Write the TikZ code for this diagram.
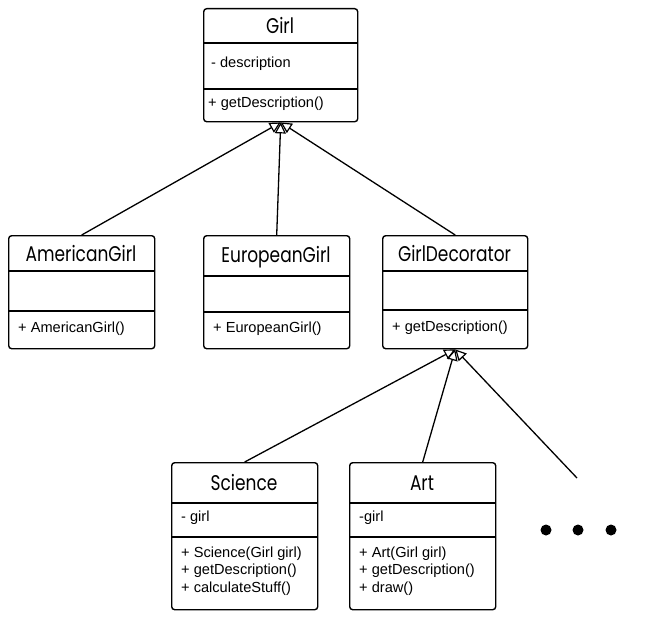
\documentclass[tikz,border=0pt]{standalone}
\usepackage{fontspec}
\setmainfont{Liberation Sans}
\newfontfamily\titlefont{Poppins}
\usetikzlibrary{arrows.meta}
\newcommand{\ctext}[1]{\scalebox{1}[1.25]{#1}}
\tikzset{
  classbox/.style={draw, rounded corners=3pt, line width=1.4pt, inner sep=0pt, anchor=north west},
  divider/.style={line width=1.4pt},
  ctitle/.style={font=\titlefont\fontsize{17}{20}\selectfont, inner sep=0pt},
  member/.style={font=\fontsize{14.6}{17.5}\selectfont, anchor=west, inner sep=0pt, align=left},
  inherit/.style={line width=1.3pt, -{Triangle[open, length=11pt, width=11pt, line width=1.2pt]}},
  dot/.style={fill=black}
}
\begin{document}
\begin{tikzpicture}[x=1pt, y=-1pt]
\useasboundingbox (0,0) rectangle (650,626);
% Girl
\node[classbox, minimum width=154pt, minimum height=113pt] (girl) at (203,8) {};
\draw[divider] (203,43) -- (357,43);
\draw[divider] (203,89) -- (357,89);
\node[ctitle] (girlT) at (280,25) {\ctext{Girl}};
\node[member] (girlA) at (211,64) {- description};
\node[member] (girlM) at (208,104) {+ getDescription()};
% AmericanGirl
\node[classbox, minimum width=146pt, minimum height=113pt] (amer) at (8,235) {};
\draw[divider] (8,271) -- (154,271);
\draw[divider] (8,311) -- (154,311);
\node[ctitle] (amerT) at (81,254) {\ctext{AmericanGirl}};
\node[member] (amerM) at (18,329) {+ AmericanGirl()};
% EuropeanGirl
\node[classbox, minimum width=146pt, minimum height=113pt] (euro) at (203,235) {};
\draw[divider] (203,276) -- (349,276);
\draw[divider] (203,312) -- (349,312);
\node[ctitle] (euroT) at (276,257) {\ctext{EuropeanGirl}};
\node[member] (euroM) at (213,329) {+ EuropeanGirl()};
% GirlDecorator
\node[classbox, minimum width=145pt, minimum height=113pt] (deco) at (382,235) {};
\draw[divider] (382,271) -- (527,271);
\draw[divider] (382,310) -- (527,310);
\node[ctitle] (decoT) at (454.5,254) {\ctext{GirlDecorator}};
\node[member] (decoM) at (392,328) {+ getDescription()};
% Science
\node[classbox, minimum width=146pt, minimum height=147pt] (sci) at (171,462) {};
\draw[divider] (171,503) -- (317,503);
\draw[divider] (171,537) -- (317,537);
\node[ctitle] (sciT) at (244,483) {\ctext{Science}};
\node[member] (sciA) at (181,518) {- girl};
\node[member] (sciM) at (181,571) {+ Science(Girl girl)\\+ getDescription()\\+ calculateStuff()};
% Art
\node[classbox, minimum width=146pt, minimum height=147pt] (art) at (349,462) {};
\draw[divider] (349,503) -- (495,503);
\draw[divider] (349,537) -- (495,537);
\node[ctitle] (artT) at (422,483) {\ctext{Art}};
\node[member] (artA) at (359,518) {-girl};
\node[member] (artM) at (359,571) {+ Art(Girl girl)\\+ getDescription()\\+ draw()};
% more
\coordinate (more) at (577,478);
\fill[dot] (546,530) circle (5.5pt);
\fill[dot] (578,530) circle (5.5pt);
\fill[dot] (611,530) circle (5.5pt);
% connectors
\draw[inherit] (amer.north) -- (girl.south);
\draw[inherit] (euro.north) -- (girl.south);
\draw[inherit] (deco.north) -- (girl.south);
\draw[inherit] (sci.north) -- (deco.south);
\draw[inherit] (art.north) -- (deco.south);
\draw[inherit] (more) -- (deco.south);
\end{tikzpicture}
\end{document}
